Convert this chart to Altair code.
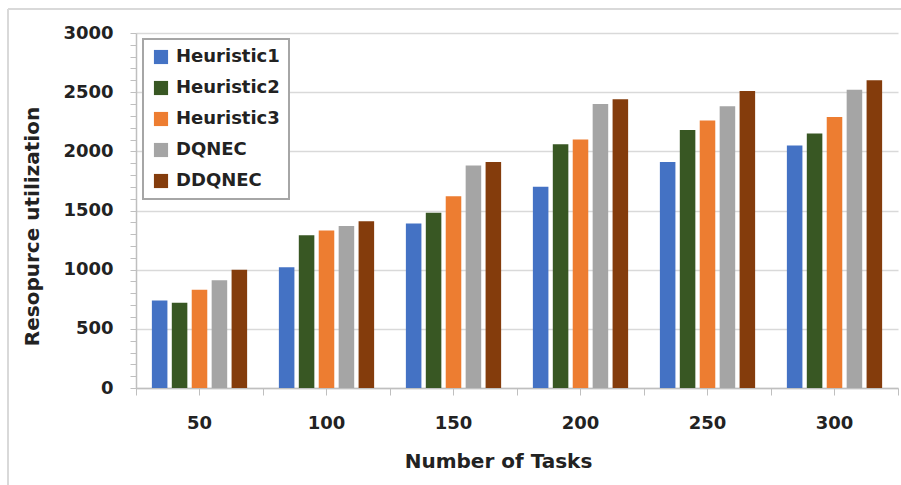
import altair as alt
import pandas as pd

# Number of tasks per experiment
tasks = ["50", "100", "150", "200", "250", "300"]

# Resource utilization of each method
heuristic1 = [740, 1020, 1390, 1700, 1910, 2050]
heuristic2 = [720, 1290, 1480, 2060, 2180, 2150]
heuristic3 = [830, 1330, 1620, 2100, 2260, 2290]
dqnec = [910, 1370, 1880, 2400, 2380, 2520]
ddqnec = [1000, 1410, 1910, 2440, 2510, 2600]

methods = ["Heuristic1", "Heuristic2", "Heuristic3", "DQNEC", "DDQNEC"]
colors = ["#4472C4", "#385723", "#ED7D31", "#A5A5A5", "#843C0C"]

series = [heuristic1, heuristic2, heuristic3, dqnec, ddqnec]
rows = []
for m, vals in zip(methods, series):
    for t, v in zip(tasks, vals):
        rows.append({"tasks": t, "method": m, "value": v})
df = pd.DataFrame(rows)

FONT = "DejaVu Sans"
GRID = "#d9d9d9"
AXIS = "#bfbfbf"

bars = alt.Chart(df).mark_bar().encode(
    x=alt.X(
        "tasks:N",
        sort=tasks,
        scale=alt.Scale(paddingInner=0.25, paddingOuter=0.125),
        axis=alt.Axis(
            orient="bottom",
            title="Number of Tasks",
            titleFont=FONT,
            titleFontSize=20,
            titleFontWeight="bold",
            titleColor="#222222",
            titleX=362,
            titleY=63,
            titleBaseline="top",
            labelFont=FONT,
            labelFontSize=18,
            labelFontWeight="bold",
            labelColor="#222222",
            labelAngle=0,
            labelPadding=19,
            tickSize=7,
            tickColor=AXIS,
            domainColor=AXIS,
            domainWidth=1.5,
            grid=False,
        ),
    ),
    xOffset=alt.XOffset(
        "method:N", sort=methods, scale=alt.Scale(paddingInner=0.22)
    ),
    y=alt.Y(
        "value:Q",
        scale=alt.Scale(domain=[0, 3000], nice=False),
        axis=alt.Axis(
            title="Resopurce utilization",
            titleFont=FONT,
            titleFontSize=20,
            titleFontWeight="bold",
            titleColor="#222222",
            titleX=-94,
            titleY=193,
            titleAngle=-90,
            titleBaseline="bottom",
            values=list(range(0, 3001, 100)),
            format="d",
            labelExpr="datum.value % 500 === 0 ? datum.label : ''",
            labelOverlap=False,
            labelFont=FONT,
            labelFontSize=18,
            labelFontWeight="bold",
            labelColor="#222222",
            labelPadding=17,
            tickSize=6,
            tickColor=AXIS,
            domainColor=AXIS,
            domainWidth=1.5,
            gridColor=GRID,
            gridWidth=1.5,
            gridOpacity={
                "condition": {"test": "datum.value % 500 === 0", "value": 1},
                "value": 0,
            },
        ),
    ),
    color=alt.Color(
        "method:N",
        sort=methods,
        scale=alt.Scale(domain=methods, range=colors),
        legend=alt.Legend(
            title=None,
            orient="none",
            legendX=7,
            legendY=6,
            symbolType="square",
            symbolSize=200,
            symbolStrokeWidth=0,
            labelFont=FONT,
            labelFontSize=18,
            labelFontWeight="bold",
            labelColor="#222222",
            labelOffset=6,
            rowPadding=13,
            padding=9,
            fillColor="white",
            strokeColor="#a6a6a6",
        ),
    ),
)

# Extra tick marks at the boundaries between task groups
boundary_ticks = alt.Chart(df).mark_bar(opacity=0).encode(
    x=alt.X(
        "tasks:N",
        sort=tasks,
        scale=alt.Scale(paddingInner=0, paddingOuter=0),
        axis=alt.Axis(
            orient="bottom",
            title=None,
            labels=False,
            domain=False,
            grid=False,
            tickBand="extent",
            tickSize=7,
            tickColor=AXIS,
        ),
    ),
)

# Light outer frame around the figure
frame_df = pd.DataFrame({"k": [0]})
frame_top = alt.Chart(frame_df).mark_rule(color=GRID, strokeWidth=2).encode(
    x=alt.value(-128), x2=alt.value(800), y=alt.value(-24)
)
frame_left = alt.Chart(frame_df).mark_rule(color=GRID, strokeWidth=2).encode(
    x=alt.value(-128), y=alt.value(-24), y2=alt.value(500)
)

chart = (
    alt.layer(frame_top, frame_left, boundary_ticks, bars)
    .resolve_scale(x="independent")
    .resolve_axis(x="independent")
    .properties(
        width=762,
        height=355,
        autosize=alt.AutoSizeParams(type="none"),
        padding={"left": 136, "top": 33, "right": 3, "bottom": 97},
        background="white",
    )
    .configure_view(stroke=None)
    .configure_legend(strokeWidth=2)
)

chart.save("out.html", embed_options={"renderer": "svg", "actions": False})
